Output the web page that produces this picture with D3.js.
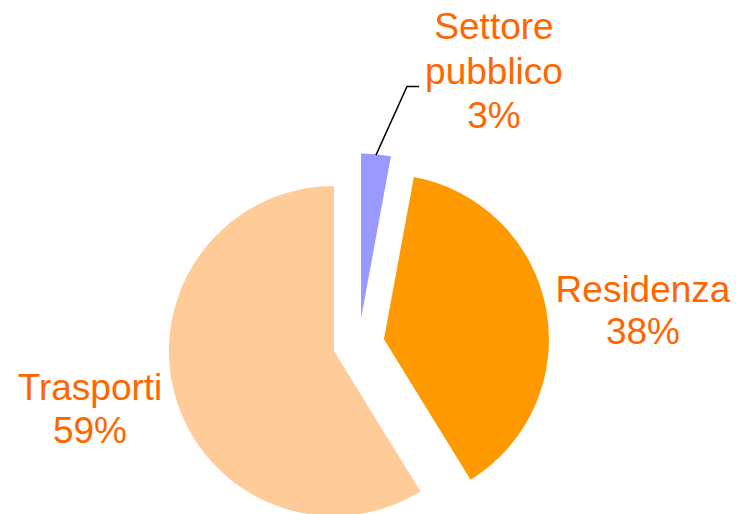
<!DOCTYPE html>
<html>
<head>
<meta charset="utf-8">
<script src="https://cdn.jsdelivr.net/npm/d3@7"></script>
<style>
  html, body { margin: 0; padding: 0; background: #ffffff; }
  svg { display: block; }
  text { font-family: "Liberation Sans", Arial, sans-serif; }
</style>
</head>
<body>
<svg id="chart" width="736" height="514"></svg>
<script>
// ---- data ----
const categories = ["Settore pubblico", "Residenza", "Trasporti"];
const values = [2.9, 38.3, 58.8];
const labelLines = [["Settore", "pubblico"], ["Residenza"], ["Trasporti"]];
const colors = ["#9999FF", "#FF9900", "#FFCC99"];

// ---- layout ----
const W = 736, H = 514;
const cx = 358.7, cy = 344, R = 165, explode = 25.7;
const textColor = "#FF6600";
const fontSize = 37;
// label anchor (center x, first baseline y) and line spacing per slice
const labelLayout = [
  { x: 494, y: 39, lh: 44.5 },
  { x: 643, y: 302, lh: 41.5 },
  { x: 90, y: 400, lh: 42.5 }
];

const svg = d3.select("#chart");

const pie = d3.pie().sort(null).value(d => d.value).startAngle(0).endAngle(2 * Math.PI);
const data = categories.map((c, i) => ({ name: c, value: values[i], color: colors[i], lines: labelLines[i] }));
const arcs = pie(data);

const arc = d3.arc().innerRadius(0).outerRadius(R);

const offset = a => {
  const m = (a.startAngle + a.endAngle) / 2;
  return [Math.sin(m) * explode, -Math.cos(m) * explode];
};

const g = svg.append("g").attr("transform", `translate(${cx},${cy})`);

g.selectAll("path.slice")
  .data(arcs)
  .join("path")
  .attr("class", "slice")
  .attr("d", arc)
  .attr("fill", d => d.data.color)
  .attr("transform", d => { const o = offset(d); return `translate(${o[0]},${o[1]})`; });

// leader line for the small slice
const small = arcs[0];
const so = offset(small);
const sm = (small.startAngle + small.endAngle) / 2;
const p0 = [cx + so[0] + Math.sin(sm) * (R - 1), cy + so[1] - Math.cos(sm) * (R - 1)];
const lay0 = labelLayout[0];
const elbowY = lay0.y + lay0.lh + 3;
const p1 = [lay0.x - 87, elbowY];
const p2 = [lay0.x - 75, elbowY];
svg.append("path")
  .attr("d", d3.line()([p0, p1, p2]))
  .attr("fill", "none")
  .attr("stroke", "#000")
  .attr("stroke-width", 1.5);

// labels
arcs.forEach((a, i) => {
  const L = labelLayout[i];
  const lines = a.data.lines.concat([Math.round(a.data.value) + "%"]);
  const t = svg.append("text")
    .attr("text-anchor", "middle")
    .attr("fill", textColor)
    .attr("font-size", fontSize);
  lines.forEach((ln, j) => {
    t.append("tspan")
      .attr("x", L.x)
      .attr("y", L.y + j * L.lh)
      .text(ln);
  });
});
</script>
</body>
</html>
